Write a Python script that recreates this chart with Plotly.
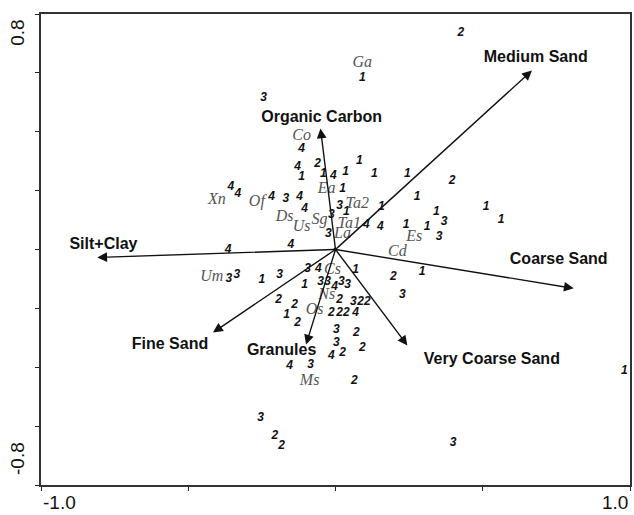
import plotly.graph_objects as go

# Environmental variable arrows (tip coordinates, CCA axes 1 and 2)
env_names = ["Medium Sand", "Coarse Sand", "Very Coarse Sand", "Granules",
             "Fine Sand", "Silt+Clay", "Organic Carbon"]
env_x = [0.667, 0.809, 0.244, -0.100, -0.416, -0.809, -0.051]
env_y = [0.608, -0.132, -0.326, -0.323, -0.282, -0.027, 0.411]
# label positions
env_lx = [0.680, 0.758, 0.531, -0.183, -0.562, -0.788, -0.047]
env_ly = [0.652, -0.037, -0.374, -0.346, -0.326, 0.014, 0.448]

# Species labels
sp_names = ["Ga", "Co", "Xn", "Of", "Ea", "Ta2", "Ds", "Sg", "Ta1", "Us", "La",
            "Es", "Cd", "Um", "Cs", "Ns", "Os", "Ms"]
sp_x = [0.091, -0.115, -0.403, -0.267, -0.030, 0.074, -0.173, -0.054, 0.047,
        -0.115, 0.024, 0.267, 0.210, -0.420, -0.010, -0.030, -0.071, -0.088]
sp_y = [0.635, 0.384, 0.167, 0.163, 0.207, 0.153, 0.112, 0.099, 0.085,
        0.075, 0.051, 0.041, -0.007, -0.095, -0.068, -0.153, -0.204, -0.448]

# Site scores, labelled by group (1-4)
site_grp = ["2", "1", "3", "4", "4", "2", "1", "1", "4", "1",
            "1", "1", "1", "2", "1", "4", "4", "4", "3", "4",
            "3", "1", "1", "4", "3", "1", "1", "1", "1", "3",
            "4", "4", "1", "1", "3", "3", "4", "4", "3", "3",
            "1", "3", "3", "4", "1", "2", "1", "1", "3", "3",
            "4", "3", "3", "3", "2", "2", "1", "2", "2", "3",
            "2", "2", "2", "2", "2", "4", "3", "2", "3", "2",
            "4", "2", "4", "3", "2", "3", "2", "2", "3", "1"]
site_x = [0.426, 0.091, -0.244, -0.115, -0.129, -0.061, -0.115, -0.041, -0.007, 0.034,
          0.081, 0.132, 0.244, 0.396, 0.024, -0.355, -0.332, -0.217, -0.169, -0.122,
          0.014, 0.156, 0.277, -0.105, -0.014, 0.037, 0.511, 0.562, 0.342, 0.369,
          0.105, 0.152, 0.240, 0.311, 0.352, -0.024, -0.365, -0.152, -0.362, -0.335,
          -0.250, -0.190, -0.095, -0.058, 0.068, 0.196, 0.294, -0.105, -0.051, -0.027,
          -0.003, 0.020, 0.041, 0.227, -0.193, -0.139, -0.166, -0.129, 0.014, 0.061,
          0.085, 0.108, -0.014, 0.014, 0.037, 0.068, 0.003, 0.071, 0.003, 0.091,
          -0.014, 0.024, -0.156, -0.085, 0.064, -0.254, -0.206, -0.183, 0.399, 0.981]
site_y = [0.737, 0.584, 0.513, 0.340, 0.279, 0.292, 0.245, 0.258, 0.251, 0.262,
          0.299, 0.258, 0.258, 0.234, 0.207, 0.211, 0.190, 0.180, 0.173, 0.180,
          0.149, 0.146, 0.180, 0.136, 0.116, 0.126, 0.143, 0.099, 0.126, 0.095,
          0.082, 0.078, 0.082, 0.075, 0.041, 0.054, 0.000, 0.014, -0.099, -0.088,
          -0.102, -0.085, -0.065, -0.065, -0.071, -0.092, -0.078, -0.122, -0.109, -0.109,
          -0.129, -0.109, -0.119, -0.153, -0.173, -0.190, -0.224, -0.251, -0.170, -0.177,
          -0.177, -0.177, -0.214, -0.217, -0.217, -0.214, -0.275, -0.282, -0.316, -0.336,
          -0.363, -0.353, -0.397, -0.391, -0.448, -0.571, -0.632, -0.669, -0.659, -0.414]

x_ticks = [-1.0, -0.5, 0.0, 0.5, 1.0]
y_ticks = [-0.8, -0.6, -0.4, -0.2, 0.0, 0.2, 0.4, 0.6, 0.8]

fig = go.Figure()

fig.add_trace(go.Scatter(
    x=site_x, y=site_y, text=site_grp, mode="text",
    textfont=dict(family="Liberation Sans, Arial", size=12, color="#111111",
                  weight="bold", style="italic"),
    textposition="middle center", hoverinfo="skip", showlegend=False))

fig.add_trace(go.Scatter(
    x=sp_x, y=sp_y, text=sp_names, mode="text",
    textfont=dict(family="Liberation Serif, Times New Roman", size=16, color="#555555",
                  style="italic"),
    textposition="middle center", hoverinfo="skip", showlegend=False))

fig.add_trace(go.Scatter(
    x=env_lx, y=env_ly, text=env_names, mode="text",
    textfont=dict(family="Liberation Sans, Arial", size=16, color="#111111",
                  weight="bold"),
    textposition="middle center", hoverinfo="skip", showlegend=False))

fig.add_trace(go.Scatter(
    x=[0], y=[0], mode="markers", marker=dict(size=4, color="#111111"),
    hoverinfo="skip", showlegend=False))

annotations = []
for tx, ty in zip(env_x, env_y):
    annotations.append(dict(
        x=tx, y=ty, ax=0, ay=0, xref="x", yref="y", axref="x", ayref="y",
        text="", showarrow=True, arrowhead=2, arrowsize=1.4, arrowwidth=1.4,
        arrowcolor="#111111"))

lab_font = dict(family="Liberation Sans, Arial", size=19, color="#111111")
annotations += [
    dict(text="-1.0", xref="paper", yref="paper", x=0.032, y=-0.038,
         xanchor="center", yanchor="middle", showarrow=False, font=lab_font),
    dict(text="1.0", xref="paper", yref="paper", x=0.975, y=-0.038,
         xanchor="center", yanchor="middle", showarrow=False, font=lab_font),
    dict(text="0.8", xref="paper", yref="paper", x=-0.039, y=0.960,
         xanchor="center", yanchor="middle", textangle=-90, showarrow=False, font=lab_font),
    dict(text="-0.8", xref="paper", yref="paper", x=-0.041, y=0.057,
         xanchor="center", yanchor="middle", textangle=-90, showarrow=False, font=lab_font),
]

fig.update_layout(
    width=634, height=515,
    margin=dict(l=41, r=2, t=14, b=30),
    paper_bgcolor="white", plot_bgcolor="white",
    annotations=annotations,
    xaxis=dict(range=[-1, 1], tickvals=x_ticks, showticklabels=False,
               ticks="outside", ticklen=4, tickwidth=1.2, tickcolor="#222222",
               showline=True, linecolor="#333333", linewidth=1.5, mirror=True,
               showgrid=False, zeroline=False),
    yaxis=dict(range=[-0.8, 0.8], tickvals=y_ticks, showticklabels=False,
               ticks="outside", ticklen=4, tickwidth=1.2, tickcolor="#222222",
               showline=True, linecolor="#333333", linewidth=1.5, mirror=True,
               showgrid=False, zeroline=False),
)

fig.write_html(
    "out.html",
    config={"displayModeBar": False},
    post_script="document.body.style.margin='0px';document.body.style.overflow='hidden';")
